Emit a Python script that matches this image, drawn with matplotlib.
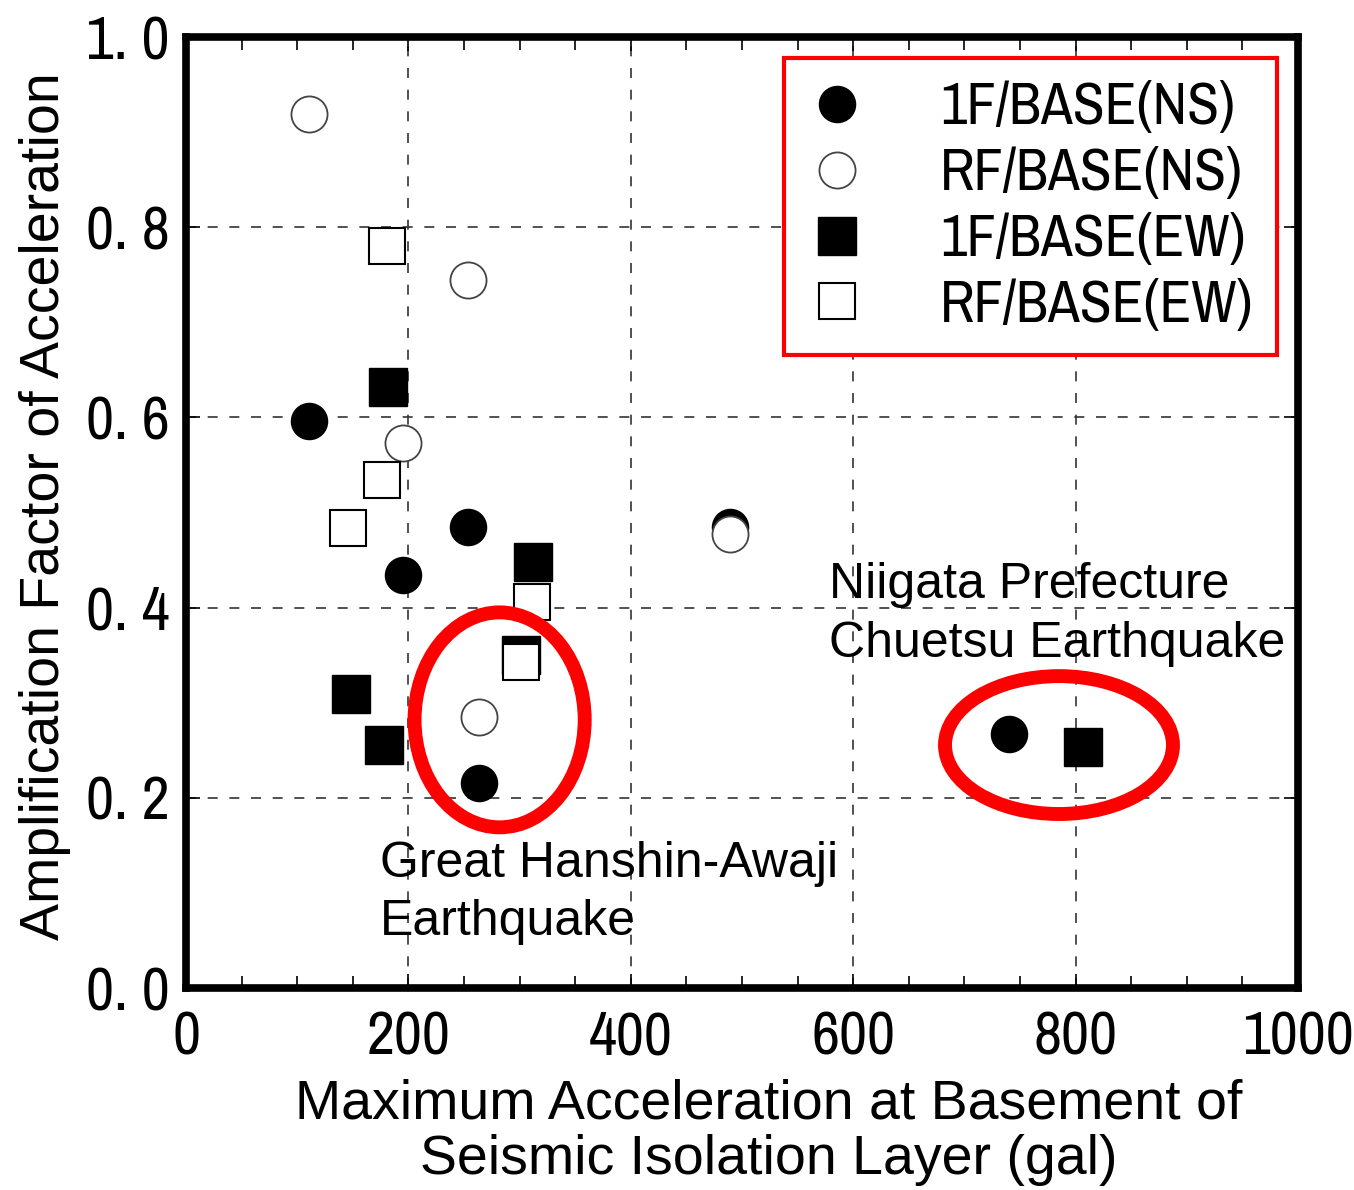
import matplotlib
matplotlib.use("Agg")
import matplotlib.pyplot as plt
from matplotlib import font_manager
from matplotlib.patches import Ellipse

# data
ns1_x = [111, 254, 195, 489, 263, 740]
ns1_y = [0.596, 0.485, 0.434, 0.485, 0.216, 0.267]
nsr_x = [111, 254, 195, 489, 263]
nsr_y = [0.919, 0.744, 0.573, 0.477, 0.285]
ew1_x = [182, 312, 148, 178, 807, 301]
ew1_y = [0.632, 0.448, 0.309, 0.256, 0.253, 0.350]
ewr_x = [181, 176, 146, 311, 301]
ewr_y = [0.780, 0.534, 0.484, 0.406, 0.343]

labels = ["1F/BASE(NS)", "RF/BASE(NS)", "1F/BASE(EW)", "RF/BASE(EW)"]
xticks = [0, 200, 400, 600, 800, 1000]
yticks = [0.0, 0.2, 0.4, 0.6, 0.8, 1.0]
ytick_labels = ["0. 0", "0. 2", "0. 4", "0. 6", "0. 8", "1. 0"]

# look for a condensed face for the ticks / legend (the original uses a narrow gothic)
names = sorted({f.name for f in font_manager.fontManager.ttflist})
cond = [n for n in names if "Narrow" in n or "Condensed" in n]
narrow = cond[:1] + ["DejaVu Sans"]
sans = ["Liberation Sans", "DejaVu Sans"]

fig = plt.figure(figsize=(13.54, 11.9), dpi=100)
ax = fig.add_axes((0.1374, 0.1697, 0.8213, 0.7992))

ax.plot(ns1_x, ns1_y, "o", ms=26, color="black", label=labels[0], zorder=3)
ax.plot(nsr_x, nsr_y, "o", ms=26, mfc="white", mec="#444444", mew=1.3, label=labels[1], zorder=3)
ax.plot(ew1_x, ew1_y, "s", ms=27, color="black", label=labels[2], zorder=3)
ax.plot(ewr_x, ewr_y, "s", ms=26, mfc="white", mec="black", mew=1.5, label=labels[3], zorder=3)

ax.set_xlim(0, 1000)
ax.set_ylim(0, 1.0)
ax.set_xticks(xticks)
ax.set_xticks(range(0, 1001, 50), minor=True)
ax.set_yticks(yticks)
ax.set_yticklabels(ytick_labels)
ax.tick_params(which="both", direction="in", top=True, right=True, width=1.2)
ax.tick_params(which="major", length=10, labelsize=44)
ax.tick_params(axis="y", which="major", pad=12)
ax.tick_params(axis="x", which="major", pad=16)
ax.tick_params(which="minor", length=9)
for t in ax.get_xticklabels() + ax.get_yticklabels():
    t.set_family(narrow)
for s in ax.spines.values():
    s.set_linewidth(5.5)
ax.grid(True, which="major", color="#333333", lw=1.2, ls=(0, (6, 7)))

# red ellipses around the two earthquakes
ax.add_patch(Ellipse((282, 0.282), 153, 0.226, fill=False, ec="red", lw=10, zorder=4))
ax.add_patch(Ellipse((785, 0.2555), 205, 0.145, fill=False, ec="red", lw=10, zorder=4))

ax.text(578, 0.338, "Niigata Prefecture\nChuetsu Earthquake", fontsize=36,
        family=sans, va="bottom", ha="left", linespacing=1.35)
ax.text(174, 0.045, "Great Hanshin-Awaji\nEarthquake", fontsize=36,
        family=sans, va="bottom", ha="left", linespacing=1.35)

leg = ax.legend(loc="upper right", bbox_to_anchor=(0.981, 0.978), fancybox=False,
                prop={"family": narrow, "size": 42}, handlelength=1.0,
                handletextpad=1.27, borderpad=0.4, labelspacing=0.22,
                borderaxespad=0, framealpha=1)
leg.get_frame().set_edgecolor("red")
leg.get_frame().set_linewidth(3)
leg.set_zorder(5)

fig.text(0.568, 0.003, "Maximum Acceleration at Basement of\nSeismic Isolation Layer (gal)",
         ha="center", va="bottom", fontsize=40, family=sans, linespacing=1.1)
fig.text(0.033, 0.575, "Amplification Factor of Acceleration", rotation=90,
         ha="center", va="center", fontsize=40, family=sans)

fig.savefig("out.png", dpi=100)
